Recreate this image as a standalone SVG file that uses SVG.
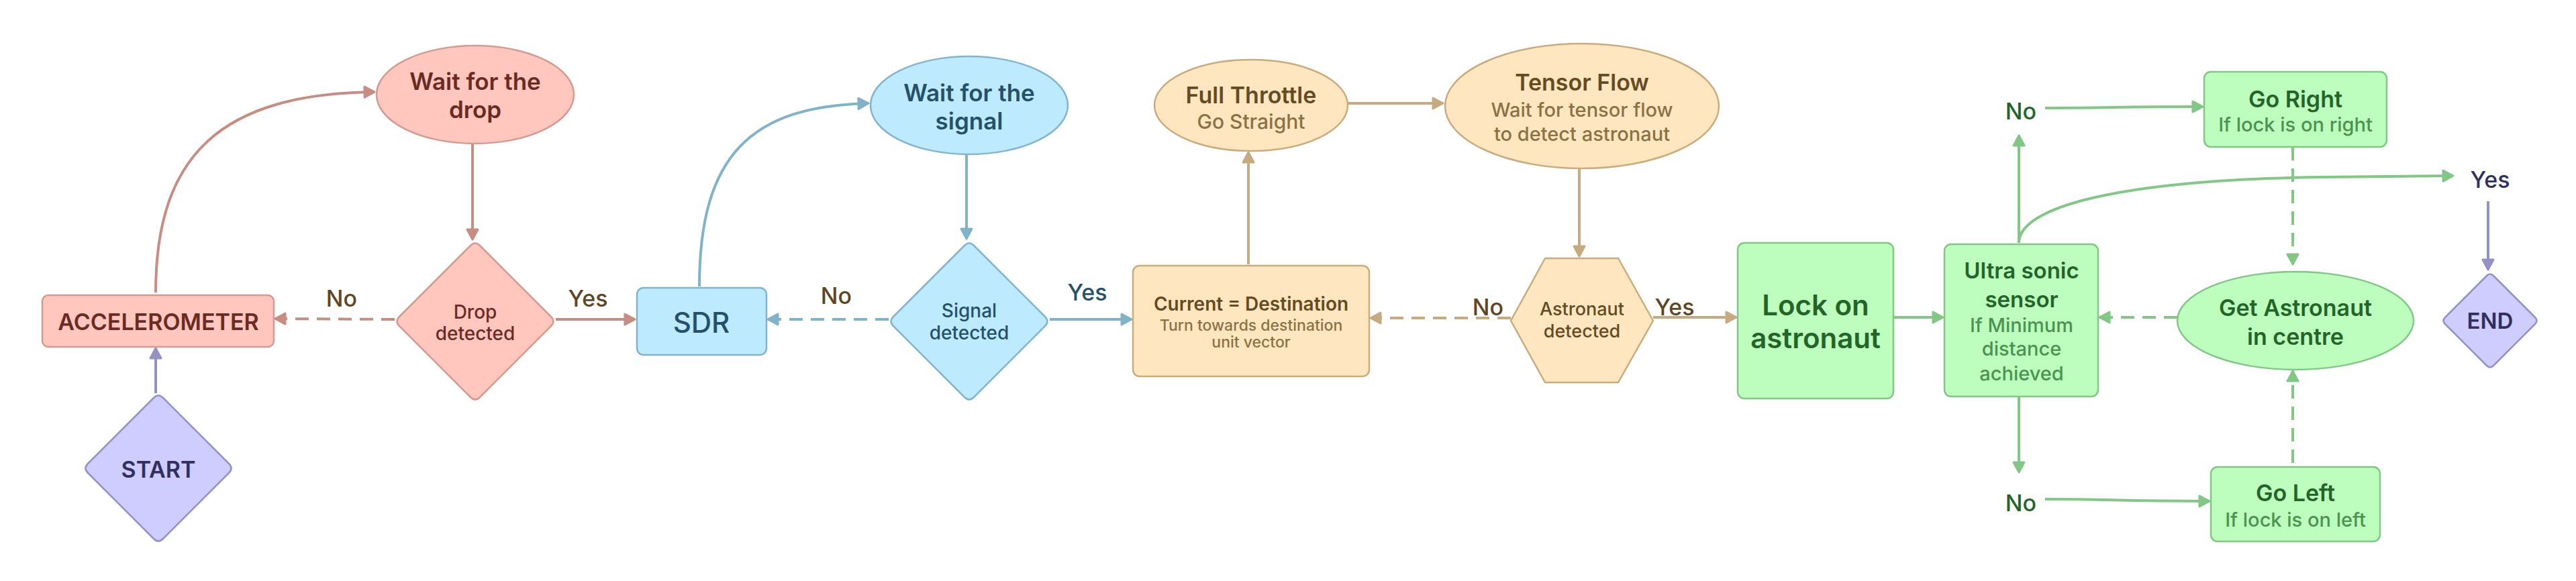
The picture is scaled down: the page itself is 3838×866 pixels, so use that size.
<svg xmlns="http://www.w3.org/2000/svg" width="3838" height="866" viewBox="0 0 3838 866">
<style>
text{font-family:Inter,"Liberation Sans",sans-serif;text-anchor:middle}
.t{font-weight:600}
.s{font-weight:500}
.red{fill:#ffc7be;stroke:#d39a90;stroke-width:2.5}
.blue{fill:#bdeafd;stroke:#82b5cd;stroke-width:2.5}
.tan{fill:#fee7c0;stroke:#c9ab7c;stroke-width:2.5}
.green{fill:#bdfdbe;stroke:#82c786;stroke-width:2.5}
.purple{fill:#cecdfe;stroke:#9391c9;stroke-width:2.5}
.tr{fill:#6b2a22}.tb{fill:#24506a}.tt{fill:#654a22}.ts{fill:#8c7145}.tg{fill:#236528}.tgs{fill:#4b9350}.tp{fill:#302f60}.lb{fill:#5f4622}
.c{fill:none;stroke-width:4}
.cr{stroke:#c78c82}.cb{stroke:#80b2c9}.ct{stroke:#c6ab80}.cg{stroke:#82c786}.cp{stroke:#9391c8}
.d{stroke-dasharray:20 12}
</style>
<defs>
<marker id="ar" viewBox="0 0 20 20" markerWidth="20" markerHeight="20" refX="18" refY="10" orient="auto" markerUnits="userSpaceOnUse"><path d="M3,2 L18,10 L3,18 Z" fill="#c78c82" stroke="#c78c82" stroke-width="3" stroke-linejoin="round"/></marker>
<marker id="ab" viewBox="0 0 20 20" markerWidth="20" markerHeight="20" refX="18" refY="10" orient="auto" markerUnits="userSpaceOnUse"><path d="M3,2 L18,10 L3,18 Z" fill="#80b2c9" stroke="#80b2c9" stroke-width="3" stroke-linejoin="round"/></marker>
<marker id="at" viewBox="0 0 20 20" markerWidth="20" markerHeight="20" refX="18" refY="10" orient="auto" markerUnits="userSpaceOnUse"><path d="M3,2 L18,10 L3,18 Z" fill="#c6ab80" stroke="#c6ab80" stroke-width="3" stroke-linejoin="round"/></marker>
<marker id="ag" viewBox="0 0 20 20" markerWidth="20" markerHeight="20" refX="18" refY="10" orient="auto" markerUnits="userSpaceOnUse"><path d="M3,2 L18,10 L3,18 Z" fill="#82c786" stroke="#82c786" stroke-width="3" stroke-linejoin="round"/></marker>
<marker id="ap" viewBox="0 0 20 20" markerWidth="20" markerHeight="20" refX="18" refY="10" orient="auto" markerUnits="userSpaceOnUse"><path d="M3,2 L18,10 L3,18 Z" fill="#9391c8" stroke="#9391c8" stroke-width="3" stroke-linejoin="round"/></marker>
</defs>
<rect width="3838" height="866" fill="#ffffff"/>
<g id="connectors">
<path class="c cp" d="M232,586 L232,519" marker-end="url(#ap)"/>
<path class="c cr" d="M232,436 C232,230 330,140 558,137" marker-end="url(#ar)"/>
<path class="c cr" d="M704,214 L704,357" marker-end="url(#ar)"/>
<path class="c cr d" d="M588,476 L410,475" marker-end="url(#ar)"/>
<path class="c cr" d="M828,476 L946,476" marker-end="url(#ar)"/>
<path class="c cb" d="M1042,427 C1042,230 1120,158 1294,154" marker-end="url(#ab)"/>
<path class="c cb" d="M1440,231 L1440,356" marker-end="url(#ab)"/>
<path class="c cb d" d="M1324,476 L1144,476" marker-end="url(#ab)"/>
<path class="c cb" d="M1564,476 L1686,476" marker-end="url(#ab)"/>
<path class="c ct" d="M1860,394 L1860,227" marker-end="url(#at)"/>
<path class="c ct" d="M2008,154 L2150,154" marker-end="url(#at)"/>
<path class="c ct" d="M2353,251 L2353,382" marker-end="url(#at)"/>
<path class="c ct d" d="M2251,474 L2042,474" marker-end="url(#at)"/>
<path class="c ct" d="M2463,473 L2587,473" marker-end="url(#at)"/>
<path class="c cg" d="M2821,473 L2895,473" marker-end="url(#ag)"/>
<path class="c cg" d="M3008,362 L3008,202" marker-end="url(#ag)"/>
<path class="c cg" d="M3047,161 C3150,161 3150,159 3282,159" marker-end="url(#ag)"/>
<path class="c cg" d="M3008,592 L3008,704" marker-end="url(#ag)"/>
<path class="c cg" d="M3047,744 C3150,744 3150,747 3292,747" marker-end="url(#ag)"/>
<path class="c cg" d="M3008,362 C3008,310 3150,268 3460,264 L3655,262" marker-end="url(#ag)"/>
<path class="c cg d" d="M3416,219 L3416,394" marker-end="url(#ag)"/>
<path class="c cg d" d="M3416,690 L3416,553" marker-end="url(#ag)"/>
<path class="c cg d" d="M3244,473 L3128,473" marker-end="url(#ag)"/>
<path class="c cp" d="M3707,300 L3707,402" marker-end="url(#ap)"/>
<text class="s lb" x="509" y="457" font-size="34">No</text>
<text class="s lb" x="876" y="457" font-size="34">Yes</text>
<text class="s lb" x="1246" y="453" font-size="34">No</text>
<text class="s tb" x="1620" y="448" font-size="34">Yes</text>
<text class="s lb" x="2217" y="470" font-size="34">No</text>
<text class="s lb" x="2495" y="470" font-size="34">Yes</text>
<text class="s tg" x="3011" y="178" font-size="34">No</text>
<text class="s tg" x="3011" y="762" font-size="34">No</text>
<text class="s tp" x="3710" y="280" font-size="34">Yes</text>
</g>
<g id="start">
<path class="purple" d="M229,593 Q236,586 243,593 L341,691 Q348,698 341,705 L243,803 Q236,810 229,803 L131,705 Q124,698 131,691 Z"/>
<text class="t tp" x="236" y="712" font-size="34">START</text>
</g>
<g id="accelerometer">
<rect class="red" x="63" y="440" width="345" height="77" rx="9"/>
<text class="t tr" x="236" y="492" font-size="34">ACCELEROMETER</text>
</g>
<g id="wait-drop">
<ellipse class="red" cx="708" cy="141" rx="147" ry="73"/>
<text class="t tr" x="708" y="134" font-size="35">Wait for the</text>
<text class="t tr" x="708" y="176" font-size="35">drop</text>
</g>
<g id="drop-detected">
<path class="red" d="M701,366 Q708,359 715,366 L821,472 Q828,479 821,486 L715,592 Q708,599 701,592 L595,486 Q588,479 595,472 Z"/>
<text class="s tr" x="708" y="475" font-size="28">Drop</text>
<text class="s tr" x="708" y="507" font-size="28">detected</text>
</g>
<g id="sdr">
<rect class="blue" x="949" y="429" width="193" height="100" rx="10"/>
<text class="s tb" x="1045" y="496" font-size="42">SDR</text>
</g>
<g id="wait-signal">
<ellipse class="blue" cx="1444" cy="157" rx="147" ry="73"/>
<text class="t tb" x="1444" y="151" font-size="35">Wait for the</text>
<text class="t tb" x="1444" y="193" font-size="35">signal</text>
</g>
<g id="signal-detected">
<path class="blue" d="M1437,366 Q1444,359 1451,366 L1557,472 Q1564,479 1557,486 L1451,592 Q1444,599 1437,592 L1331,486 Q1324,479 1331,472 Z"/>
<text class="s tb" x="1444" y="473" font-size="28">Signal</text>
<text class="s tb" x="1444" y="506" font-size="28">detected</text>
</g>
<g id="current-destination">
<rect class="tan" x="1688" y="396" width="352" height="165" rx="10"/>
<text class="t tt" x="1864" y="463" font-size="28">Current = Destination</text>
<text class="s ts" x="1864" y="493" font-size="23">Turn towards destination</text>
<text class="s ts" x="1864" y="518" font-size="23">unit vector</text>
</g>
<g id="full-throttle">
<ellipse class="tan" cx="1864" cy="157" rx="144" ry="68"/>
<text class="t tt" x="1864" y="154" font-size="34">Full Throttle</text>
<text class="s ts" x="1864" y="192" font-size="30">Go Straight</text>
</g>
<g id="tensor-flow">
<ellipse class="tan" cx="2357" cy="158" rx="204" ry="93"/>
<text class="t tt" x="2357" y="135" font-size="34">Tensor Flow</text>
<text class="s ts" x="2357" y="174" font-size="29">Wait for tensor flow</text>
<text class="s ts" x="2357" y="210" font-size="29">to detect astronaut</text>
</g>
<g id="astronaut-detected">
<polygon class="tan" stroke-linejoin="round" points="2251,478 2302,385 2411,385 2463,478 2411,570 2302,570"/>
<text class="s tt" x="2357" y="470" font-size="27">Astronaut</text>
<text class="s tt" x="2357" y="503" font-size="27">detected</text>
</g>
<g id="lock-on">
<rect class="green" x="2589" y="362" width="232" height="232" rx="10"/>
<text class="t tg" x="2705" y="470" font-size="42">Lock on</text>
<text class="t tg" x="2705" y="519" font-size="42">astronaut</text>
</g>
<g id="ultrasonic">
<rect class="green" x="2897" y="364" width="229" height="227" rx="10"/>
<text class="t tg" x="3012" y="415" font-size="33">Ultra sonic</text>
<text class="t tg" x="3012" y="458" font-size="33">sensor</text>
<text class="s tgs" x="3012" y="495" font-size="29">If Minimum</text>
<text class="s tgs" x="3012" y="530" font-size="29">distance</text>
<text class="s tgs" x="3012" y="567" font-size="29">achieved</text>
</g>
<g id="go-right">
<rect class="green" x="3284" y="107" width="272" height="112" rx="10"/>
<text class="t tg" x="3420" y="160" font-size="34">Go Right</text>
<text class="s tgs" x="3420" y="196" font-size="29">If lock is on right</text>
</g>
<g id="get-astronaut">
<ellipse class="green" cx="3420" cy="478" rx="176" ry="73"/>
<text class="t tg" x="3420" y="471" font-size="34">Get Astronaut</text>
<text class="t tg" x="3420" y="514" font-size="34">in centre</text>
</g>
<g id="go-left">
<rect class="green" x="3294" y="696" width="252" height="111" rx="10"/>
<text class="t tg" x="3420" y="747" font-size="34">Go Left</text>
<text class="s tgs" x="3420" y="785" font-size="29">If lock is on left</text>
</g>
<g id="end">
<path class="purple" d="M3705,411 Q3710,406 3715,411 L3777,473 Q3782,478 3777,483 L3715,545 Q3710,550 3705,545 L3643,483 Q3638,478 3643,473 Z"/>
<text class="t tp" x="3710" y="490" font-size="33">END</text>
</g>
</svg>
